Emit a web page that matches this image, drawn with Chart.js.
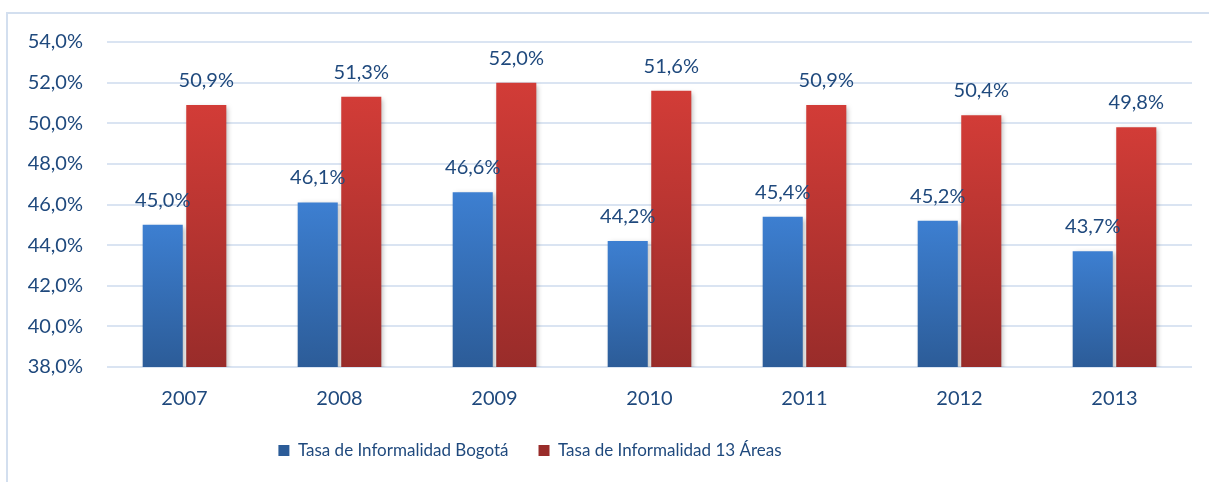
<!DOCTYPE html>
<html>
<head>
<meta charset="utf-8">
<script src="https://cdn.jsdelivr.net/npm/chart.js@4.4.1/dist/chart.umd.min.js"></script>
<style>
  html, body { margin: 0; padding: 0; background: #fff; overflow: hidden; }
  #frame { position: absolute; left: 6px; top: 12px; width: 1250px; height: 520px; border: 2px solid #D3DFEF; }
  #wrap { position: absolute; left: 0; top: 0; width: 1209px; height: 482px; }
</style>
</head>
<body>
<div id="frame"></div>
<div id="wrap"><canvas id="c"></canvas></div>
<script>
// datos
const years = ['2007', '2008', '2009', '2010', '2011', '2012', '2013'];
const bogota = [45.0, 46.1, 46.6, 44.2, 45.4, 45.2, 43.7];
const areas13 = [50.9, 51.3, 52.0, 51.6, 50.9, 50.4, 49.8];
const yMin = 38, yMax = 54, yStep = 2;

const FONT = 'Lato, "Open Sans", sans-serif';
const TXT = '#1F497D';

const fmt = v => v.toFixed(1).replace('.', ',') + '%';

// gradiente por barra
function barGradient(top, bottom) {
  return (ctx) => {
    const chart = ctx.chart;
    if (!chart.chartArea || ctx.type !== 'data') return top;
    const y = chart.scales.y;
    const y0 = y.getPixelForValue(ctx.raw);
    const y1 = y.getPixelForValue(yMin);
    const g = chart.ctx.createLinearGradient(0, y0, 0, y1);
    g.addColorStop(0, top);
    g.addColorStop(1, bottom);
    return g;
  };
}

const shadowPlugin = {
  id: 'shadow',
  beforeDatasetsDraw(chart) {
    const c = chart.ctx;
    c.save();
    c.shadowColor = 'rgba(0,0,0,0.28)';
    c.shadowBlur = 5;
    c.shadowOffsetX = 2;
    c.shadowOffsetY = 2;
  },
  afterDatasetsDraw(chart) { chart.ctx.restore(); }
};

// la leyenda del original está centrada un poco a la izquierda
const legendShift = {
  id: 'legendShift',
  afterLayout(chart) {
    const lg = chart.legend;
    if (!lg) return;
    lg.left = 0;
    lg.right = 1060;
  }
};

const labelsPlugin = {
  id: 'valueLabels',
  afterDraw(chart) {
    const c = chart.ctx;
    c.save();
    c.font = '20px ' + FONT;
    c.fillStyle = TXT;
    c.textAlign = 'center';
    c.textBaseline = 'alphabetic';
    chart.data.datasets.forEach((ds, i) => {
      chart.getDatasetMeta(i).data.forEach((bar, j) => {
        c.fillText(fmt(ds.data[j]), bar.x, bar.y - 18);
      });
    });
    c.restore();
  }
};

new Chart(document.getElementById('c'), {
  type: 'bar',
  data: {
    labels: years,
    datasets: [
      { label: 'Tasa de Informalidad Bogotá', data: bogota,
        backgroundColor: barGradient('#3D7FD1', '#2C5C98'), borderWidth: 0 },
      { label: 'Tasa de Informalidad 13 Áreas', data: areas13,
        backgroundColor: barGradient('#D23C37', '#992C2A'), borderWidth: 0 }
    ]
  },
  options: {
    responsive: true,
    maintainAspectRatio: false,
    animation: false,
    datasets: { bar: { categoryPercentage: 0.562, barPercentage: 0.92 } },
    layout: { padding: { top: 42, right: 17, left: 0, bottom: 13 } },
    scales: {
      x: {
        grid: { display: false, drawTicks: false },
        border: { display: false },
        ticks: { color: TXT, font: { family: FONT, size: 20 }, padding: 20 },
        afterFit(s) { s.height = 45; }
      },
      y: {
        min: yMin, max: yMax,
        grid: { color: '#DAE4F2', lineWidth: 2, drawTicks: false },
        border: { display: false },
        ticks: { stepSize: yStep, color: TXT, font: { family: FONT, size: 20 }, padding: 24,
                 callback: v => fmt(v) },
        afterFit(s) { s.width = 107; }
      }
    },
    plugins: {
      legend: {
        position: 'bottom',
        labels: { color: TXT, font: { family: FONT, size: 17 }, boxWidth: 11, boxHeight: 11, padding: 30 }
      },
      tooltip: { enabled: false }
    }
  },
  plugins: [shadowPlugin, legendShift, labelsPlugin]
});
</script>
</body>
</html>
